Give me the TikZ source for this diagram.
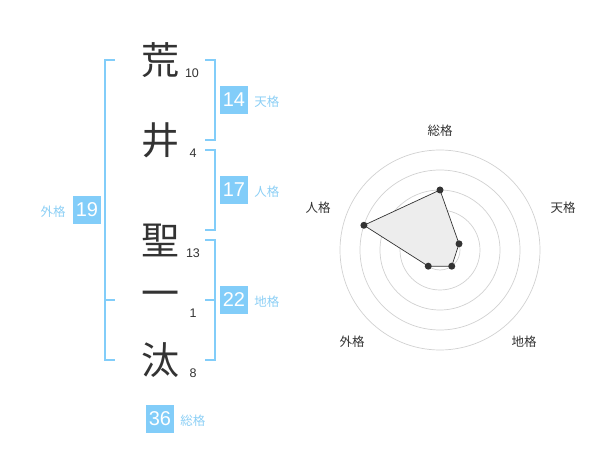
\documentclass[tikz,border=0pt]{standalone}
\usepackage{fontspec}
\setmainfont{Liberation Sans}
\newfontfamily\jp{Noto Sans CJK JP}
\usetikzlibrary{positioning}
\definecolor{kakublue}{HTML}{82CDF9}
\definecolor{kakutext}{HTML}{8CCFF5}
\definecolor{ink}{HTML}{333333}
\tikzstyle{kanji}=[text=ink, font=\jp\fontsize{38}{38}\selectfont, inner sep=0pt]
\tikzstyle{strokes}=[text=ink, font=\fontsize{12.5}{12.5}\selectfont, inner sep=0pt]
\tikzstyle{score}=[fill=kakublue, text=white, minimum size=28pt, inner sep=0pt, font=\fontsize{20}{20}\selectfont]
\tikzstyle{kaku}=[text=kakutext, font=\jp\fontsize{12.5}{12.5}\selectfont, inner sep=0pt]
\tikzstyle{bracket}=[draw=kakublue, line width=2pt]
\tikzstyle{ring}=[draw=black!18, line width=0.7pt]
\tikzstyle{area}=[fill=black!7, draw=ink, line width=0.7pt]
\tikzstyle{vertex}=[circle, fill=ink, inner sep=0pt, minimum size=7pt]
\tikzstyle{axis}=[text=ink, font=\jp\fontsize{12.5}{12.5}\selectfont, inner sep=0pt]

\begin{document}
\begin{tikzpicture}[x=1pt, y=-1pt, node distance=6pt]
      \useasboundingbox (0,0) rectangle (600,470);

      % name
      \node[kanji] (k0) at (160,60) {荒};
      \node[kanji] (k1) at (160,140) {井};
      \node[kanji] (k2) at (160,240) {聖};
      \node[kanji] (k3) at (160,299) {一};
      \node[kanji] (k4) at (160,360) {汰};
      \node[strokes] (n0) at (192,73) {10};
      \node[strokes] (n1) at (193,153) {4};
      \node[strokes] (n2) at (193,253) {13};
      \node[strokes] (n3) at (193,313) {1};
      \node[strokes] (n4) at (193,373) {8};

      % brackets
      \draw[bracket] (205,60) -- (215,60) -- (215,140) -- (205,140);
      \draw[bracket] (205,150) -- (215,150) -- (215,230) -- (205,230);
      \draw[bracket] (205,240) -- (215,240) -- (215,360) -- (205,360);
      \draw[bracket] (205,300) -- (215,300);
      \draw[bracket] (115,60) -- (105,60) -- (105,360) -- (115,360);
      \draw[bracket] (105,300) -- (115,300);

      % scores
      \node[score] (s0) at (234,100) {14};
      \node[kaku] (l0) [right=of s0,yshift=-2pt] {天格};
      \node[score] (s1) at (234,190) {17};
      \node[kaku] (l1) [right=of s1,yshift=-2pt] {人格};
      \node[score] (s2) at (234,300) {22};
      \node[kaku] (l2) [right=of s2,yshift=-2pt] {地格};
      \node[score] (s3) at (87,210) {19};
      \node[kaku] (l3) [left=7pt of s3,yshift=-2pt] {外格};
      \node[score] (s4) at (160,419) {36};
      \node[kaku] (l4) [right=of s4,yshift=-2pt] {総格};

      % radar
      \begin{scope}[shift={(440,250)}, y=1pt]
      \draw[ring] (0,0) circle[radius=20pt];
      \draw[ring] (0,0) circle[radius=40pt];
      \draw[ring] (0,0) circle[radius=60pt];
      \draw[ring] (0,0) circle[radius=80pt];
      \draw[ring] (0,0) circle[radius=100pt];
      \fill[black!20] (0,0) circle[radius=4pt];
      \coordinate (v0) at (90:60);
      \coordinate (v1) at (18:20);
      \coordinate (v2) at (-54:20);
      \coordinate (v3) at (-126:20);
      \coordinate (v4) at (162:80);
      \filldraw[area] (v0) -- (v1) -- (v2) -- (v3) -- (v4) -- cycle;
      \node[vertex] (d0) at (v0) {};
      \node[vertex] (d1) at (v1) {};
      \node[vertex] (d2) at (v2) {};
      \node[vertex] (d3) at (v3) {};
      \node[vertex] (d4) at (v4) {};
      \node[axis] (a0) at (0,119) {総格};
      \node[axis] (a1) at (123,42) {天格};
      \node[axis] (a2) at (84,-92) {地格};
      \node[axis] (a3) at (-88,-92) {外格};
      \node[axis] (a4) at (-122,42) {人格};
      \end{scope}
\end{tikzpicture}
\end{document}
